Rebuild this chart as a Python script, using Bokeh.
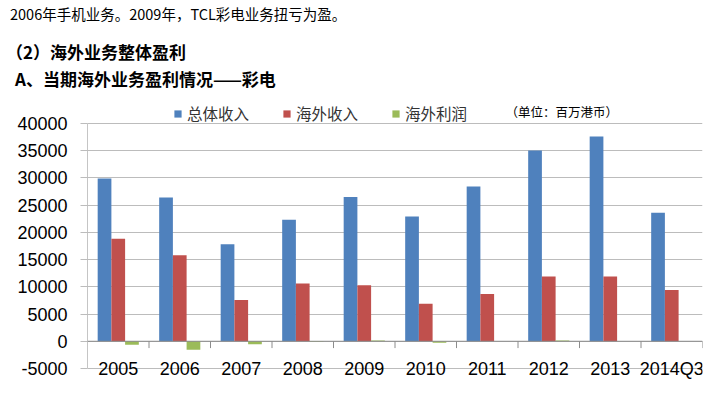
from bokeh.plotting import figure
from bokeh.layouts import column
from bokeh.core.properties import value
from bokeh.models import (ColumnDataSource, FactorRange, Range1d, FixedTicker, Div,
                          NumeralTickFormatter, Span, Label, LabelSet, Legend, LegendItem)
from bokeh.transform import dodge
from bokeh.embed import file_html
from bokeh.resources import INLINE

# ---- data ----
years = ["2005", "2006", "2007", "2008", "2009", "2010", "2011", "2012", "2013", "2014Q3"]
total_revenue = [29900, 26400, 17800, 22300, 26500, 22900, 28400, 35000, 37600, 23600]
overseas_revenue = [18800, 15800, 7600, 10600, 10300, 6900, 8700, 11900, 11900, 9400]
overseas_profit = [-650, -1550, -550, -80, 120, -250, 0, 150, 0, 0]
y_ticks = [-5000, 0, 5000, 10000, 15000, 20000, 25000, 30000, 35000, 40000]
series_names = ["总体收入", "海外收入", "海外利润"]
unit_text = "（单位：百万港币）"
heading_1 = "2006年手机业务。2009年，TCL彩电业务扭亏为盈。"
heading_2 = "（2）海外业务整体盈利"
heading_3 = "A、当期海外业务盈利情况——彩电"

colors = ["#4F81BD", "#C0504D", "#9BBB59"]
CJK = "Noto Sans CJK SC"
NUM = "Liberation Sans"
W = 712

# ---- header (slide text) ----
def line(txt, left, top, size, weight):
    return (f'<div style="position:absolute;left:{left}px;top:{top}px;white-space:nowrap;'
            f'font-family:\'{CJK}\';font-size:{size}px;line-height:1;font-weight:{weight};'
            f'color:#000">{txt}</div>')

hdr_html = ('<div style="position:relative;width:%dpx;height:100px;">' % W
            + line(heading_1, 10, 7, 14.5, "normal")
            + line(heading_2, 6, 43, 17, "bold")
            + line(heading_3, 15, 70, 17, "bold")
            + '</div>')
hdr = Div(text=hdr_html, width=W, height=100, margin=0)

# ---- chart ----
src = ColumnDataSource(dict(year=years, total=total_revenue,
                            overseas=overseas_revenue, profit=overseas_profit,
                            label_y=[y_ticks[0]] * len(years)))

p = figure(width=W, height=291, output_backend="svg", toolbar_location=None,
           x_range=FactorRange(factors=years), y_range=Range1d(-7200, 44200),
           x_axis_location=None, y_axis_location="left",
           min_border_left=87, min_border_right=W - 702, min_border_top=0, min_border_bottom=11)
p.outline_line_color = None
p.background_fill_color = "white"
p.border_fill_color = "white"

bw = 0.223
r1 = p.vbar(x=dodge("year", -bw, range=p.x_range), top="total", width=bw, source=src,
            fill_color=colors[0], line_color=None)
r2 = p.vbar(x=dodge("year", 0, range=p.x_range), top="overseas", width=bw, source=src,
            fill_color=colors[1], line_color=None)
r3 = p.vbar(x=dodge("year", bw, range=p.x_range), top="profit", width=bw, source=src,
            fill_color=colors[2], line_color=None)

# grid / axis
p.xgrid.visible = False
p.ygrid.grid_line_color = "#bcbcbc"
p.ygrid.grid_line_width = 1
p.yaxis.ticker = FixedTicker(ticks=y_ticks)
p.yaxis.formatter = NumeralTickFormatter(format="0")
p.yaxis.axis_line_color = None
p.yaxis.major_tick_line_color = "#bcbcbc"
p.yaxis.major_tick_out = 7
p.yaxis.major_tick_in = 0
p.yaxis.minor_tick_line_color = None
p.yaxis.major_label_standoff = 13
p.yaxis.major_label_text_font = NUM
p.yaxis.major_label_text_font_size = "18px"
p.yaxis.major_label_text_color = "#000000"

# value-axis line from the lowest to the highest tick
p.segment(x0=[0], x1=[0], y0=[y_ticks[0]], y1=[y_ticks[-1]], line_color="#8c8c8c", line_width=1)

# zero line (category axis) with ticks between categories
p.add_layout(Span(location=0, dimension="width", line_color="#8c8c8c", line_width=1))
bounds = list(range(1, len(years) + 1))
p.segment(x0=bounds, x1=bounds, y0=[0] * len(bounds), y1=[-1250] * len(bounds),
          line_color="#8c8c8c", line_width=1)

# category labels
p.add_layout(LabelSet(x="year", y="label_y", text="year", source=src,
                      text_align="center", text_baseline="middle",
                      text_font=value(NUM), text_font_size=value("18px"),
                      text_color="#000000"))

# legend
legend = Legend(items=[LegendItem(label=series_names[0], renderers=[r1]),
                       LegendItem(label=series_names[1], renderers=[r2]),
                       LegendItem(label=series_names[2], renderers=[r3])],
                orientation="horizontal", location=(86, 256),
                glyph_width=9, glyph_height=9, label_standoff=5, spacing=33,
                padding=0, margin=0, border_line_color=None, background_fill_alpha=0,
                label_text_font=CJK, label_text_font_size="15.5px", label_text_color="#333333",
                label_height=18)
p.add_layout(legend)

p.add_layout(Label(x=418, y=269, x_units="screen", y_units="screen", text=unit_text,
                   text_baseline="middle", text_font=CJK, text_font_size="12.5px",
                   text_color="#000000"))

layout = column(hdr, p, spacing=0)
open("out.html", "w").write(file_html(layout, INLINE))
